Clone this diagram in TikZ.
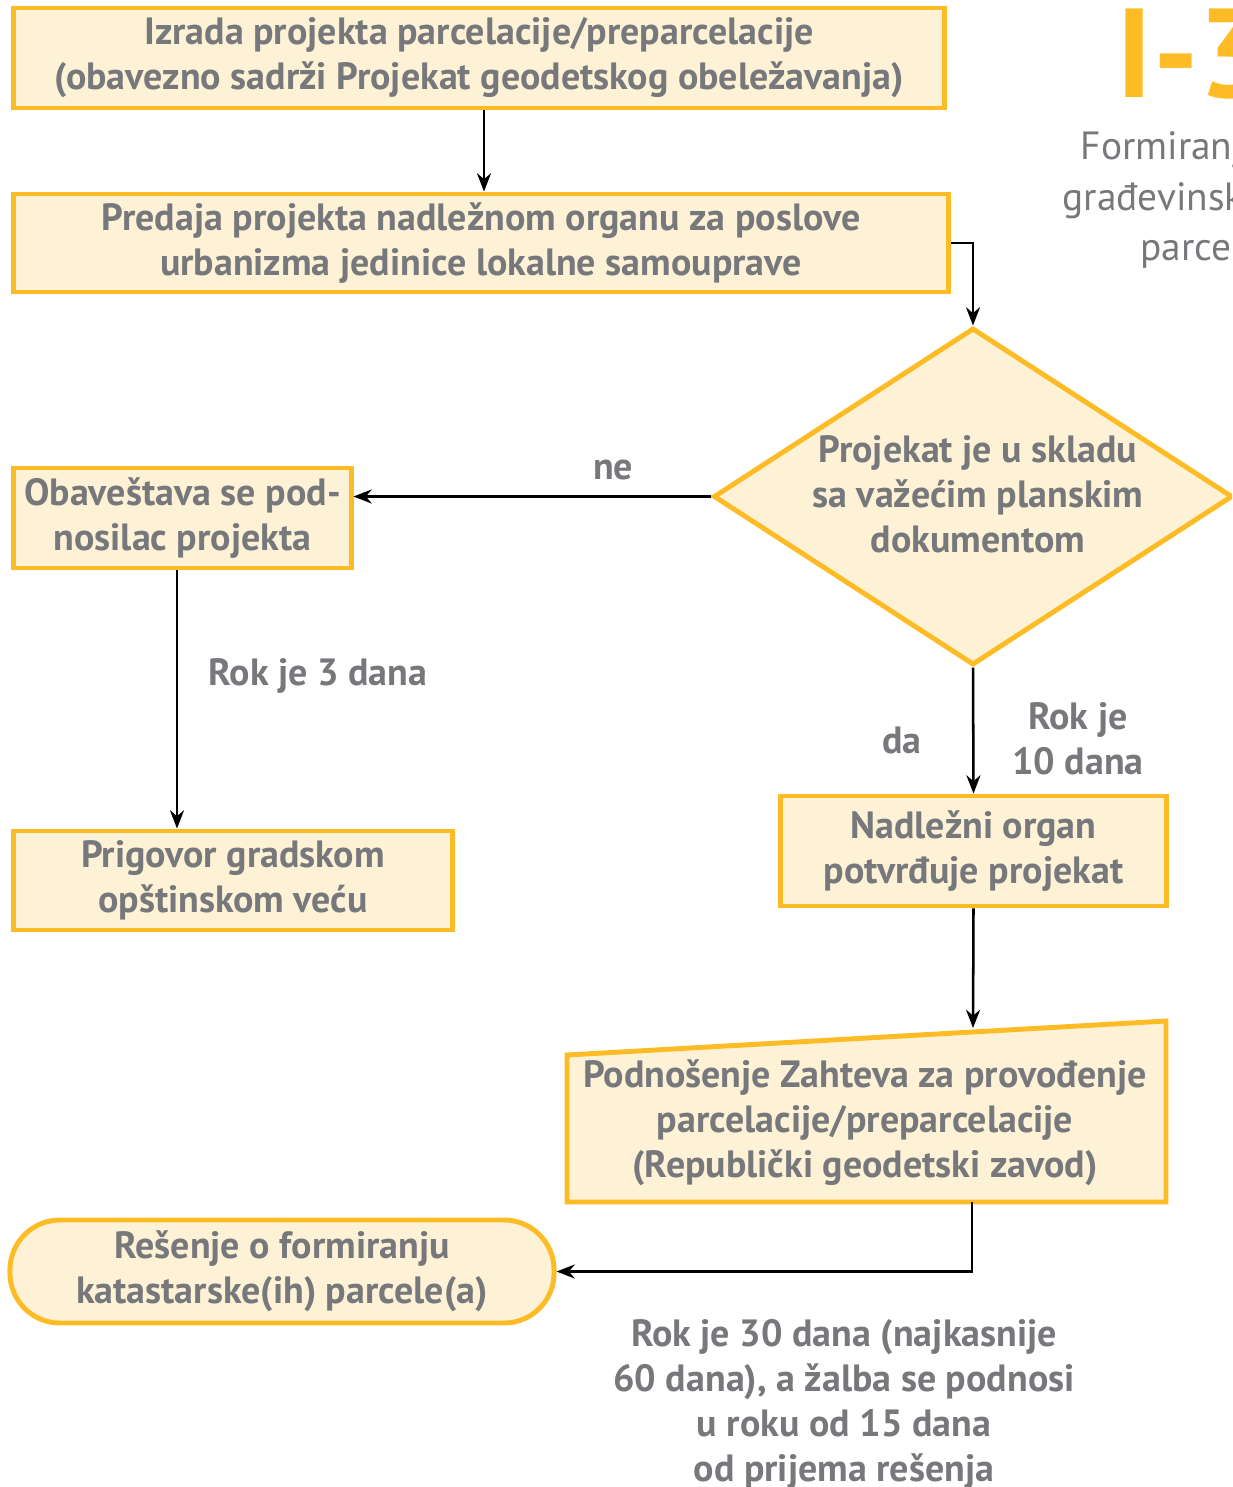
\documentclass[tikz,border=0pt]{standalone}
\usepackage{fontspec}
\setmainfont{PT Sans}
\usepackage{xcolor}
\usepackage{tikz}
\usetikzlibrary{shapes.geometric, arrows.meta, positioning, calc}
\definecolor{stepgold}{HTML}{FDBB25}
\definecolor{stepcream}{HTML}{FDF1D6}
\definecolor{labelgray}{HTML}{77787B}

\tikzset{
  stepbox/.style={draw=stepgold, fill=stepcream, line width=3.5pt, align=center,
    text=labelgray, font=\fontsize{27}{32}\selectfont\bfseries, inner sep=0pt},
  checkbox/.style={stepbox, shape=diamond, minimum width=12.975cm, minimum height=8.425cm},
  flowlabel/.style={text=labelgray, font=\fontsize{27}{32}\selectfont\bfseries, align=center},
  flow/.style={line width=1.8pt, -{Stealth[length=13pt,width=10pt]}}
}

\begin{document}
\begin{tikzpicture}[x=0.025cm, y=-0.025cm]
  \clip (0,0) rectangle (1232,1487);

  % heading on the right
  \node[stepgold, font=\fontsize{90}{90}\selectfont\bfseries, anchor=base west] (chapter) at (1112,97) {I-3};
  \node[labelgray, font=\fontsize{28}{36}\selectfont, align=right, anchor=east] (chaptitle) at (1268,200) {Formiranje\\građevinske\\parcele};

  % steps
  \node[stepbox, minimum width=23.25cm, minimum height=2.5cm] (izrada) at (479,58)
    {Izrada projekta parcelacije/preparcelacije\\(obavezno sadrži Projekat geodetskog obeležavanja)};
  \node[stepbox, minimum width=23.35cm, minimum height=2.45cm] (predaja) at (481,243)
    {Predaja projekta nadležnom organu za poslove\\urbanizma jedinice lokalne samouprave};
  \node[checkbox] (uskladu) at (973,496.5) {};
  \node[flowlabel] (uskladutext) at (978,494) {Projekat je u skladu\\sa važećim planskim\\dokumentom};
  \node[stepbox, minimum width=8.425cm, minimum height=2.5cm] (obavestava) at (182.5,518)
    {Obaveštava se pod-\\nosilac projekta};
  \node[stepbox, minimum width=10.95cm, minimum height=2.475cm] (prigovor) at (233,880.5)
    {Prigovor gradskom\\opštinskom veću};
  \node[stepbox, minimum width=9.625cm, minimum height=2.75cm] (potvrda) at (973.5,851)
    {Nadležni organ\\potvrđuje projekat};

  % zahtev (manual input)
  \draw[draw=stepgold, fill=stepcream, line width=3.5pt, line join=miter]
    (567,1055) -- (1166,1021) -- (1166,1202) -- (567,1202) -- cycle;
  \node[flowlabel] (zahtev) at (865,1123)
    {Podnošenje Zahteva za provođenje\\parcelacije/preparcelacije\\(Republički geodetski zavod)};
  \coordinate (zahtevtop) at (973,1028);
  \coordinate (zahtevbot) at (972,1202);

  \node[stepbox, rounded corners=1.25cm, minimum width=13.6cm, minimum height=2.575cm] (resenje) at (282,1271.5)
    {Rešenje o formiranju\\katastarske(ih) parcele(a)};

  % connectors
  \draw[flow] (izrada.south -| 484,0) -- (predaja.north -| 484,0);
  \draw[flow] (predaja.east) -| (uskladu.north);
  \draw[flow] (uskladu.west) -- (uskladu.west -| obavestava.east);
  \draw[flow] (obavestava.south -| 177,0) -- (prigovor.north -| 177,0);
  \draw[flow] (uskladu.south) -- (potvrda.north);
  \draw[flow] (potvrda.south) -- (zahtevtop);
  \draw[flow] (zahtevbot) |- (resenje.east);

  % labels
  \node[flowlabel] (ne) at (613,470) {ne};
  \node[flowlabel] (rok3) at (318,676) {Rok je 3 dana};
  \node[flowlabel] (da) at (902,740) {da};
  \node[flowlabel] (rok10) at (1078,739) {Rok je\\10 dana};
  \node[flowlabel] (rok30) at (844,1404)
    {Rok je 30 dana (najkasnije\\60 dana), a žalba se podnosi\\u roku od 15 dana\\od prijema rešenja};
\end{tikzpicture}
\end{document}
